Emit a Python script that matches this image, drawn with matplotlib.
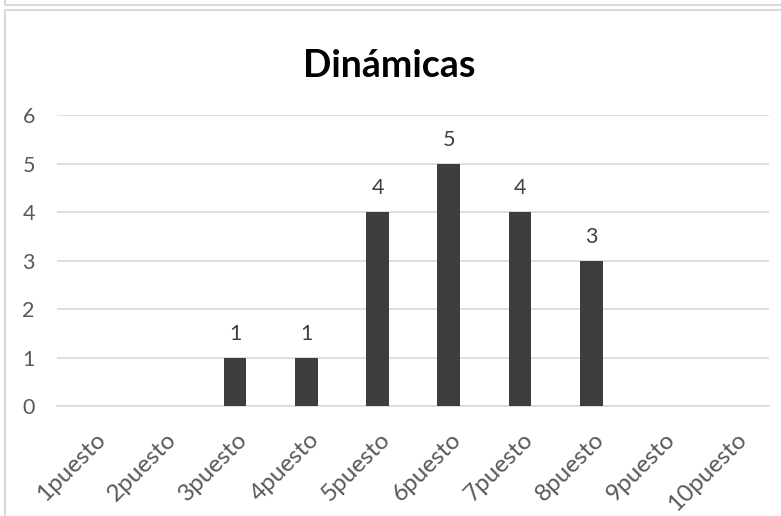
import matplotlib
matplotlib.use("Agg")
import matplotlib.pyplot as plt
from matplotlib.patches import Rectangle
from matplotlib.transforms import ScaledTranslation

# data
categorias = ["1puesto", "2puesto", "3puesto", "4puesto", "5puesto",
              "6puesto", "7puesto", "8puesto", "9puesto", "10puesto"]
valores = [0, 0, 1, 1, 4, 5, 4, 3, 0, 0]
y_ticks = [0, 1, 2, 3, 4, 5, 6]

plt.rcParams['font.family'] = ['Lato', 'DejaVu Sans']

gris_texto = '#595959'
gris_linea = '#d9d9d9'
color_barra = '#3d3d3d'

fig = plt.figure(figsize=(7.81, 5.16), dpi=100)
ax = fig.add_axes([0.073, 0.213, 0.912, 0.564])

# chart frames
fig.patches.append(Rectangle((5 / 781, 1 - 5 / 516), 1.0, 0.05, transform=fig.transFigure,
                             fill=False, edgecolor=gris_linea, linewidth=1.5))
fig.patches.append(Rectangle((5 / 781, -0.05), 1.0, 1 - 10 / 516 + 0.05, transform=fig.transFigure,
                             fill=False, edgecolor=gris_linea, linewidth=1.5))

x = list(range(len(categorias)))
barras = ax.bar(x, valores, width=0.32, color=color_barra, zorder=3)

for xi, v in zip(x, valores):
    if v > 0:
        ax.text(xi, v + 0.28, str(v), ha='center', va='bottom', fontsize=15.5, color='#404040')

ax.set_xlim(-0.5, len(categorias) - 0.5)
ax.set_ylim(0, 6)
ax.set_yticks(y_ticks)
ax.yaxis.grid(True, color=gris_linea, linewidth=1.2, zorder=0)
ax.tick_params(axis='y', length=0, labelsize=15.5, labelcolor=gris_texto, pad=16)
ax.tick_params(axis='x', length=0, labelsize=17.5, labelcolor=gris_texto, pad=16)
ax.set_xticks(x)
ax.set_xticklabels(categorias, rotation=45, ha='right', rotation_mode='anchor')
desplaza = ScaledTranslation(2 / 100, 0, fig.dpi_scale_trans)
for lbl in ax.get_xticklabels():
    lbl.set_transform(lbl.get_transform() + desplaza)

for s in ['top', 'right', 'left']:
    ax.spines[s].set_visible(False)
ax.spines['bottom'].set_color(gris_linea)
ax.spines['bottom'].set_linewidth(1.2)

fig.text(389.5 / 781, 1 - 77 / 516, "Dinámicas", ha='center', va='baseline',
         fontsize=27, fontweight='bold', color='black')

fig.savefig("out.png", dpi=100)
